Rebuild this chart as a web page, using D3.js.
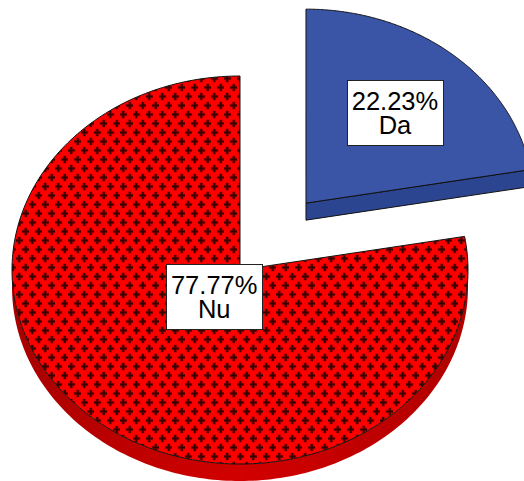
<!DOCTYPE html>
<html>
<head>
<meta charset="utf-8">
<script src="https://cdn.jsdelivr.net/npm/d3@7"></script>
<style>
  html, body { margin: 0; padding: 0; background: #fff; }
  svg { display: block; }
</style>
</head>
<body>
<svg id="chart" width="524" height="481"></svg>
<script>
// Survey answers (percent of respondents)
const categories = ["Da", "Nu"];
const percents = [22.23, 77.77];
const valueLabels = ["22.23%", "77.77%"];

const W = 524, H = 481;
const svg = d3.select("#chart");

// 3D pie geometry: tilted ellipse with a thin rim
const cx = 240, cy = 270, rx = 228, ry = 194, depth = 17;
const explode = { Da: 0.45, Nu: 0 };
const labelRadius = { Da: 0.607, Nu: 0.176 };
const topFill = { Da: "#3a55a6", Nu: "url(#crossRed)" };
const sideFill = { Da: "#2c4590", Nu: "url(#rimRed)" };

const defs = svg.append("defs");

// Red cross-hatch fill
const pat = defs.append("pattern")
  .attr("id", "crossRed")
  .attr("patternUnits", "userSpaceOnUse")
  .attr("width", 13).attr("height", 18)
  .attr("x", 3).attr("y", 2);
pat.append("rect").attr("width", 13).attr("height", 18).attr("fill", "#ff0000");
[[3.25, 4.5], [9.75, 13.5]].forEach(([px, py]) => {
  const g = pat.append("g").attr("transform", `translate(${px},${py})`);
  g.append("path").attr("d", "M-1.75,-4h3.5v2.25h2.25v3.5h-2.25v2.25h-3.5v-2.25h-2.25v-3.5h2.25z").attr("fill", "#c80000");
  g.append("path").attr("d", "M-1,-3.5h2v2.5h2.5v2h-2.5v2.5h-2v-2.5h-2.5v-2h2.5z").attr("fill", "#3a0000");
});

// Shaded rim
const rim = defs.append("linearGradient").attr("id", "rimRed")
  .attr("gradientUnits", "userSpaceOnUse")
  .attr("x1", cx - rx).attr("x2", cx + rx).attr("y1", 0).attr("y2", 0);
rim.append("stop").attr("offset", 0).attr("stop-color", "#a80000");
rim.append("stop").attr("offset", 0.5).attr("stop-color", "#d20000");
rim.append("stop").attr("offset", 1).attr("stop-color", "#b00000");

// Angles from d3.pie, clockwise from 12 o'clock
const pie = d3.pie().sort(null).value(d => d.v);
const arcs = pie(categories.map((c, i) => ({ c, v: percents[i], label: valueLabels[i] })));

const pt = (a, ox, oy, dz = 0) => [ox + rx * Math.sin(a), oy - ry * Math.cos(a) + dz];
const line = d3.line();
const sample = (a0, a1, n) => d3.range(n + 1).map(i => a0 + (a1 - a0) * i / n);

arcs.forEach(d => {
  const key = d.data.c;
  const mid = (d.startAngle + d.endAngle) / 2;
  const e = explode[key];
  const ox = cx + e * rx * Math.sin(mid);
  const oy = cy - e * ry * Math.cos(mid);
  const g = svg.append("g");

  // Rim: outer side facing the viewer (between 3 and 9 o'clock)
  const s0 = Math.max(d.startAngle, Math.PI / 2);
  const s1 = Math.min(d.endAngle, 3 * Math.PI / 2);
  if (s1 > s0) {
    const top = sample(s0, s1, 160).map(a => pt(a, ox, oy));
    const bot = sample(s1, s0, 160).map(a => pt(a, ox, oy, depth));
    g.append("path").attr("d", line(top.concat(bot)) + "Z")
      .attr("fill", sideFill[key]);
  }
  // Cut face at the end angle, visible when it points toward the viewer
  const endNormal = d.endAngle + Math.PI / 2;
  if (-Math.cos(endNormal) > 0 && d.endAngle < 2 * Math.PI - 1e-6) {
    const p1 = pt(d.endAngle, ox, oy);
    const quad = [[ox, oy], p1, [p1[0], p1[1] + depth], [ox, oy + depth]];
    g.append("path").attr("d", line(quad) + "Z")
      .attr("fill", sideFill[key]).attr("stroke", "#111").attr("stroke-width", 1);
  }
  // Top face
  const rimPts = sample(d.startAngle, d.endAngle, 240).map(a => pt(a, ox, oy));
  g.append("path").attr("d", line([[ox, oy]].concat(rimPts)) + "Z")
    .attr("fill", topFill[key]).attr("stroke", "#111").attr("stroke-width", 1)
    .attr("stroke-linejoin", "miter");

  // Label box
  const lr = labelRadius[key];
  const lx = ox + lr * rx * Math.sin(mid);
  const ly = oy - lr * ry * Math.cos(mid);
  const bw = 96, bh = 65;
  g.append("rect")
    .attr("x", Math.round(lx - bw / 2) + 0.5).attr("y", Math.round(ly - bh / 2) + 0.5)
    .attr("width", bw).attr("height", bh)
    .attr("fill", "#fff").attr("stroke", "#222").attr("stroke-width", 1);
  const t = g.append("text")
    .attr("text-anchor", "middle")
    .attr("font-family", "'Liberation Sans', Arial, sans-serif")
    .attr("font-size", 25.5).attr("fill", "#000");
  t.append("tspan").attr("x", lx).attr("y", ly - 2.5).text(d.data.label);
  t.append("tspan").attr("x", lx).attr("y", ly + 21.5).text(key);
});
</script>
</body>
</html>
